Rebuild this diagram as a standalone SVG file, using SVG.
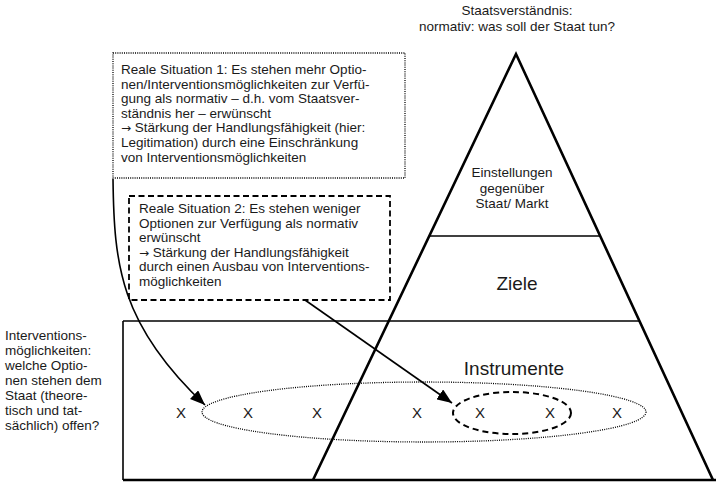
<svg xmlns="http://www.w3.org/2000/svg" width="716" height="482" viewBox="0 0 716 482">
<style>
text{font-family:"Liberation Sans",Arial,sans-serif;fill:#1a1a1a}
.t{font-size:13.5px}
.big{font-size:19px}
.ar{font-family:"DejaVu Sans",sans-serif;font-size:12px}
.x{font-size:15px;text-anchor:middle}
.thick{stroke:#000;stroke-width:2.6;fill:none}
.thin{stroke:#000;stroke-width:1.6;fill:none}
.arr{stroke:#000;stroke-width:1.6;fill:none;marker-end:url(#ah)}
</style>
<defs>
<marker id="ah" markerUnits="userSpaceOnUse" markerWidth="16" markerHeight="12" refX="15" refY="6" orient="auto">
<path d="M0,0 L15,6 L0,12 z" fill="#000"/>
</marker>
</defs>
<rect width="716" height="482" fill="#fff"/>
<g id="title">
<text class="t" x="517" y="15" text-anchor="middle">Staatsverständnis:</text>
<text class="t" x="517" y="31" text-anchor="middle">normativ: was soll der Staat tun?</text>
</g>
<g id="pyramid">
<polyline class="thin" points="123,321 123,480"/>
<line class="thin" x1="123" y1="321" x2="640" y2="321"/>
<line class="thin" x1="429" y1="236" x2="600" y2="236"/>
<line class="thick" x1="123" y1="480" x2="716" y2="480"/>
<polyline class="thick" points="313,480 516,54 713,480"/>
</g>
<g id="level1">
<text class="t" x="512" y="177" text-anchor="middle">Einstellungen</text>
<text class="t" x="512" y="193" text-anchor="middle">gegenüber</text>
<text class="t" x="512" y="208" text-anchor="middle">Staat/ Markt</text>
</g>
<g id="level2"><text class="big" x="517" y="290" text-anchor="middle">Ziele</text></g>
<g id="level3"><text class="big" x="514" y="375" text-anchor="middle">Instrumente</text></g>
<g id="box1">
<rect x="113" y="53" width="292" height="125" fill="none" stroke="#000" stroke-width="1.3" stroke-dasharray="1,1.2"/>
<text class="t" x="121" y="74">Reale Situation 1: Es stehen mehr Optio-</text>
<text class="t" x="121" y="88.6">nen/Interventionsmöglichkeiten zur Verfü-</text>
<text class="t" x="121" y="103.2">gung als normativ – d.h. vom Staatsver-</text>
<text class="t" x="121" y="117.8">ständnis her – erwünscht</text>
<text class="t" x="121" y="132.4"><tspan class="ar">→</tspan> Stärkung der Handlungsfähigkeit (hier:</text>
<text class="t" x="121" y="147">Legitimation) durch eine Einschränkung</text>
<text class="t" x="121" y="161.6">von Interventionsmöglichkeiten</text>
</g>
<g id="box2">
<rect x="129" y="196" width="261" height="104" fill="none" stroke="#000" stroke-width="1.8" stroke-dasharray="6,3.5"/>
<text class="t" x="139" y="213">Reale Situation 2: Es stehen weniger</text>
<text class="t" x="139" y="227.5">Optionen zur Verfügung als normativ</text>
<text class="t" x="139" y="242">erwünscht</text>
<text class="t" x="139" y="256.5"><tspan class="ar">→</tspan> Stärkung der Handlungsfähigkeit</text>
<text class="t" x="139" y="271">durch einen Ausbau von Interventions-</text>
<text class="t" x="139" y="285.5">möglichkeiten</text>
</g>
<g id="sidelabel">
<text class="t" x="5" y="340">Interventions-</text>
<text class="t" x="5" y="355">möglichkeiten:</text>
<text class="t" x="5" y="370">welche Optio-</text>
<text class="t" x="5" y="385">nen stehen dem</text>
<text class="t" x="5" y="400">Staat (theore-</text>
<text class="t" x="5" y="415">tisch und tat-</text>
<text class="t" x="5" y="430">sächlich) offen?</text>
</g>
<g id="options">
<ellipse cx="424" cy="412" rx="222" ry="30" fill="none" stroke="#000" stroke-width="1.3" stroke-dasharray="1,1.2"/>
<ellipse cx="512" cy="413" rx="59" ry="21" fill="none" stroke="#000" stroke-width="2" stroke-dasharray="6,4"/>
<text class="t x" x="181" y="418">X</text>
<text class="t x" x="248" y="418">X</text>
<text class="t x" x="317" y="418">X</text>
<text class="t x" x="417" y="418">X</text>
<text class="t x" x="480" y="418">X</text>
<text class="t x" x="550" y="418">X</text>
<text class="t x" x="617" y="418">X</text>
</g>
<g id="connectors">
<path class="arr" d="M113,179 C114,265 120,325 205,405"/>
<line class="arr" x1="305" y1="300" x2="452" y2="403"/>
</g>
</svg>
